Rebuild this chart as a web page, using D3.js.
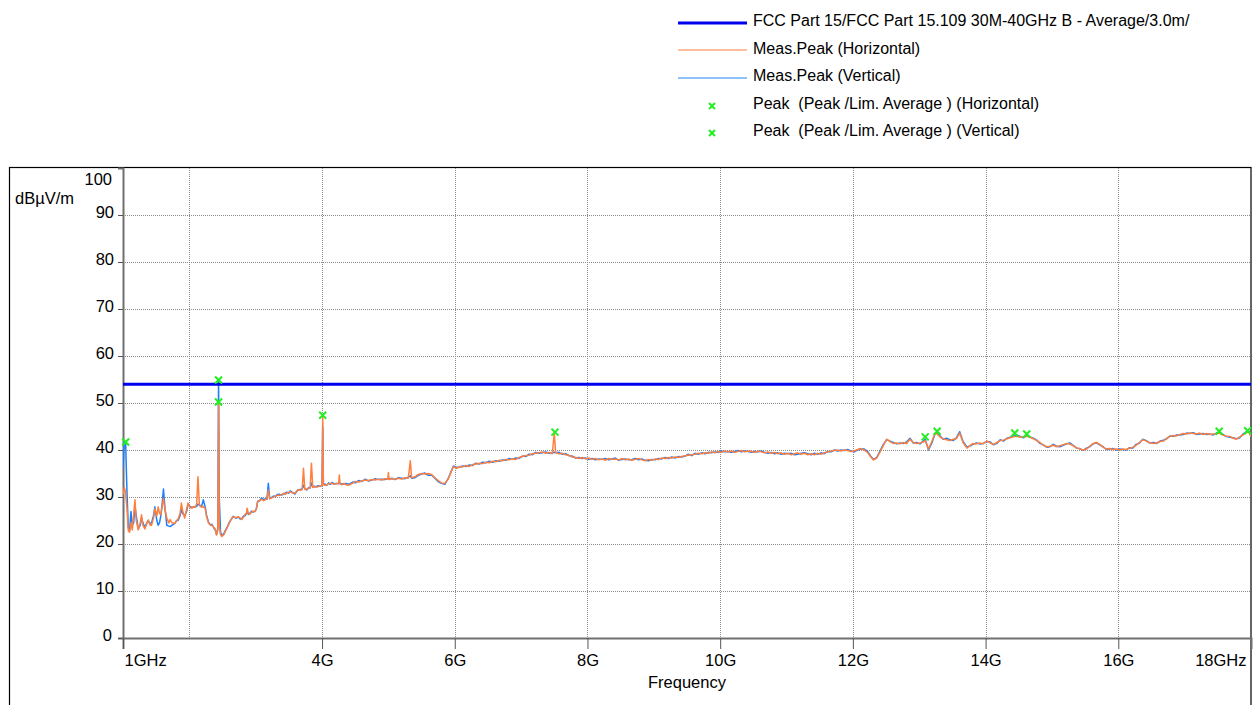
<!DOCTYPE html>
<html><head><meta charset="utf-8">
<script src="https://cdn.jsdelivr.net/npm/d3@7"></script>
<style>
html,body{margin:0;padding:0;background:#fff;}
svg text{font-family:"Liberation Sans",Arial,sans-serif;fill:#000;}
</style></head>
<body><svg id="c" width="1255" height="705"></svg>
<script>
// ---------------- data ----------------
const freqs = [
1.00,1.02,1.04,1.05,1.06,1.08,1.10,1.12,1.14,1.16,1.18,1.20,1.23,1.26,1.28,1.30,1.33,1.36,1.38,1.41,
1.43,1.46,1.48,1.51,1.53,1.55,1.57,1.59,1.61,1.63,1.66,1.69,1.71,1.74,1.78,1.81,1.83,1.86,1.88,1.90,
1.93,1.96,1.98,2.01,2.04,2.07,2.09,2.11,2.13,2.15,2.17,2.19,2.21,2.24,2.26,2.29,2.32,2.34,2.37,2.39,
2.41,2.43,2.44,2.45,2.47,2.49,2.52,2.54,2.57,2.61,2.64,2.66,2.70,2.74,2.77,2.79,2.82,2.84,2.86,2.87,
2.89,2.91,2.94,2.96,2.99,3.01,3.03,3.06,3.09,3.12,3.14,3.17,3.19,3.21,3.24,3.27,3.30,3.32,3.35,3.39,
3.42,3.45,3.47,3.50,3.52,3.55,3.59,3.62,3.64,3.67,3.70,3.72,3.74,3.77,3.80,3.82,3.84,3.86,3.88,3.91,
3.94,3.97,4.00,4.01,4.02,4.05,4.07,4.10,4.13,4.15,4.18,4.22,4.25,4.26,4.27,4.30,4.33,4.36,4.40,4.47,
4.50,4.55,4.60,4.65,4.70,4.75,4.80,4.85,4.90,4.95,4.99,5.00,5.01,5.05,5.10,5.15,5.20,5.25,5.30,5.33,
5.35,5.40,5.45,5.50,5.55,5.60,5.65,5.70,5.75,5.80,5.85,5.90,5.95,5.98,6.03,6.08,6.12,6.17,6.22,6.27,
6.32,6.37,6.42,6.47,6.52,6.57,6.62,6.67,6.72,6.77,6.82,6.87,6.92,6.97,7.02,7.07,7.12,7.17,7.22,7.27,
7.32,7.37,7.42,7.47,7.50,7.52,7.57,7.62,7.67,7.72,7.77,7.82,7.87,7.92,7.97,8.02,8.07,8.12,8.17,8.22,
8.27,8.32,8.37,8.42,8.47,8.52,8.57,8.62,8.67,8.72,8.77,8.82,8.87,8.92,8.97,9.02,9.07,9.12,9.17,9.22,
9.27,9.32,9.37,9.42,9.47,9.52,9.57,9.62,9.67,9.72,9.77,9.82,9.87,9.92,9.97,10.02,10.07,10.12,10.17,10.22,
10.27,10.32,10.37,10.42,10.47,10.52,10.57,10.62,10.67,10.72,10.77,10.82,10.87,10.92,10.97,11.02,11.07,11.12,11.17,11.22,
11.27,11.32,11.37,11.42,11.47,11.52,11.57,11.62,11.67,11.72,11.77,11.82,11.87,11.92,11.97,12.02,12.07,12.12,12.17,12.22,
12.27,12.31,12.36,12.41,12.46,12.51,12.56,12.61,12.66,12.71,12.76,12.81,12.86,12.91,12.96,13.01,13.06,13.09,13.14,13.19,
13.24,13.27,13.31,13.36,13.41,13.46,13.51,13.56,13.61,13.66,13.72,13.77,13.81,13.86,13.91,13.96,14.02,14.07,14.12,14.17,
14.22,14.27,14.32,14.37,14.42,14.47,14.52,14.57,14.62,14.67,14.72,14.77,14.82,14.87,14.92,14.97,15.02,15.07,15.12,15.17,
15.22,15.27,15.32,15.37,15.42,15.47,15.52,15.57,15.62,15.67,15.72,15.77,15.82,15.87,15.92,15.97,16.02,16.07,16.12,16.17,
16.22,16.27,16.32,16.37,16.42,16.47,16.53,16.58,16.63,16.68,16.73,16.78,16.83,16.88,16.93,16.98,17.03,17.08,17.13,17.18,
17.23,17.28,17.33,17.38,17.43,17.48,17.52,17.57,17.62,17.68,17.73,17.78,17.83,17.88,17.93,17.97,18.00
];
const measHorizontal = [
30.5,32.0,31.0,29.0,27.5,22.8,22.5,24.5,23.0,26.0,29.4,25.0,23.0,24.5,26.2,24.0,23.2,24.5,25.1,24.0,
24.0,25.5,27.5,26.0,27.9,26.5,26.2,28.0,29.7,27.5,25.5,24.5,25.2,24.5,24.4,25.0,25.3,26.5,28.7,27.0,
25.5,27.5,28.7,27.8,27.6,28.0,27.8,28.5,34.3,28.5,28.0,27.8,28.0,27.5,25.8,24.4,24.0,24.0,23.5,23.2,
21.9,23.0,50.2,24.0,22.0,21.6,22.0,22.6,23.5,24.7,25.5,25.8,25.6,25.8,25.5,25.2,25.8,26.3,26.5,27.6,
26.5,26.3,26.8,26.9,26.9,27.5,29.0,29.3,29.5,29.2,29.4,29.6,31.5,29.6,29.8,30.0,30.2,30.4,30.3,30.5,
30.8,30.6,30.9,31.0,31.1,30.9,30.8,31.3,31.6,31.4,31.6,36.1,31.6,31.7,31.9,32.0,37.2,32.0,32.2,32.1,
32.2,32.4,32.4,47.0,32.6,32.5,32.6,32.8,32.9,32.9,32.7,32.8,33.0,34.7,32.8,32.6,32.9,32.6,32.5,33.0,
33.3,33.2,33.4,33.6,33.5,33.7,33.6,33.8,33.6,33.9,33.8,35.2,33.7,33.9,33.8,34.0,33.8,34.1,34.0,37.7,
34.1,34.3,34.8,35.0,34.9,35.0,34.8,34.1,33.5,33.0,32.9,33.8,35.5,36.5,36.1,36.5,36.4,36.7,36.5,36.9,
37.0,37.2,37.1,37.4,37.3,37.6,37.5,37.8,37.7,38.0,37.9,38.1,38.0,38.4,38.6,38.8,38.9,39.2,39.3,39.4,
39.6,39.3,39.5,39.2,43.6,39.5,39.2,39.3,39.0,38.9,38.5,38.4,38.2,38.4,38.1,38.3,38.0,38.2,37.9,38.1,
37.8,38.2,38.0,38.1,37.9,38.2,37.9,38.1,37.8,38.0,38.2,37.9,37.7,38.0,37.8,38.1,38.0,38.3,38.2,38.4,
38.3,38.5,38.4,38.6,38.8,38.9,39.0,39.1,39.3,39.2,39.4,39.3,39.6,39.4,39.7,39.5,39.8,39.6,39.8,39.5,
39.7,39.9,39.6,39.8,39.7,39.5,39.8,39.6,39.4,39.6,39.3,39.5,39.2,39.4,39.1,39.3,39.0,39.2,39.4,39.1,
39.3,39.0,39.2,39.0,39.3,39.1,39.4,39.6,39.8,39.9,40.0,39.8,40.0,39.9,39.7,39.8,40.1,40.3,40.0,39.5,
38.5,37.9,38.3,39.6,41.0,42.3,41.8,41.4,41.5,41.3,41.6,41.4,42.3,41.6,41.4,41.5,41.7,42.0,40.2,41.8,
43.6,43.4,42.8,42.4,42.2,42.0,42.3,42.4,43.6,41.6,40.4,41.0,41.4,41.3,41.5,41.3,41.9,41.5,41.2,41.6,
42.0,42.1,42.4,42.6,42.8,42.9,42.7,42.8,42.9,42.7,42.4,42.0,41.6,41.0,40.7,40.8,41.0,40.7,40.9,41.1,
41.4,41.3,40.9,40.5,40.2,40.0,40.2,40.8,41.4,41.6,41.2,40.6,40.2,40.3,40.1,40.2,40.0,40.2,40.1,40.4,
40.6,41.0,41.6,42.2,41.9,41.6,41.4,41.5,41.8,41.9,42.5,42.9,43.1,43.0,43.3,43.5,43.4,43.6,43.5,43.4,
43.6,43.3,43.5,43.3,43.4,43.5,43.6,43.2,43.0,42.9,42.5,42.3,42.8,43.2,43.7,43.8,42.8
];
const measVertical = [
36.0,42.0,41.5,36.0,31.0,23.5,23.0,26.9,24.0,24.5,28.0,26.0,23.2,24.0,25.5,24.5,23.5,24.5,25.0,24.3,
24.5,26.0,27.9,25.0,24.0,24.5,26.0,28.5,31.7,28.0,24.0,23.8,23.7,24.0,24.4,25.0,25.0,26.0,27.5,26.5,
26.0,27.0,28.5,28.0,27.8,27.8,28.0,28.0,28.5,28.3,28.0,28.3,29.4,27.8,26.0,24.6,24.0,24.2,23.4,23.0,
22.0,23.5,54.9,30.0,22.5,21.8,22.2,22.8,23.6,24.8,25.4,25.9,25.5,25.7,25.3,25.4,26.0,26.0,26.5,27.0,
26.3,26.5,27.0,26.8,27.0,27.5,29.1,29.2,29.8,29.4,29.6,29.5,32.9,29.8,29.9,30.2,30.1,30.5,30.6,30.4,
30.6,30.9,31.0,30.8,31.3,31.0,30.6,31.2,31.5,31.6,31.7,32.5,31.8,31.5,32.0,31.9,33.0,32.1,32.3,32.2,
32.4,32.3,32.5,45.0,32.8,32.7,32.5,33.0,32.7,33.1,32.8,32.9,32.8,33.2,32.9,32.8,32.7,32.9,32.7,33.2,
33.0,33.5,33.3,33.8,33.4,33.6,33.9,33.7,33.8,33.7,33.9,34.0,33.8,34.0,33.7,34.1,34.0,33.9,34.2,34.5,
34.0,34.1,34.6,34.9,35.1,34.6,34.7,34.0,33.3,32.9,32.7,33.9,35.6,36.6,36.3,36.4,36.6,36.5,36.8,36.7,
37.2,37.0,37.4,37.3,37.6,37.4,37.7,37.6,37.9,37.8,38.2,38.0,38.3,38.2,38.7,38.6,39.1,39.0,39.5,39.3,
39.4,39.6,39.3,39.4,39.5,39.4,39.5,39.1,39.2,38.8,38.7,38.3,38.4,38.2,38.3,38.0,38.2,37.9,38.1,38.0,
38.2,37.9,38.1,38.3,37.8,38.0,38.1,37.9,38.0,38.2,37.9,38.1,37.8,37.7,38.0,37.9,38.2,38.1,38.4,38.2,
38.5,38.3,38.6,38.5,38.7,39.1,38.8,39.3,39.1,39.4,39.2,39.5,39.4,39.6,39.5,39.8,39.6,39.7,39.5,39.7,
39.9,39.6,39.8,39.7,39.5,39.7,39.6,39.8,39.5,39.3,39.5,39.2,39.4,39.1,39.3,39.2,39.3,39.0,39.1,39.3,
39.4,39.2,39.0,39.3,39.1,39.4,39.2,39.7,39.6,40.0,39.8,40.0,39.9,40.1,39.8,39.6,40.0,40.2,40.2,39.7,
38.7,38.0,38.4,39.8,41.2,42.2,41.9,41.6,41.3,41.5,41.4,41.7,42.5,41.5,41.6,41.3,41.9,42.3,40.0,41.5,
43.5,43.8,43.0,42.3,42.5,42.2,42.0,42.6,43.9,41.8,40.6,40.9,41.2,41.5,41.3,41.4,41.8,41.7,41.1,41.4,
42.2,41.9,42.5,42.7,43.0,43.2,42.9,42.6,43.1,42.8,42.5,42.1,41.4,41.1,40.6,40.7,41.2,40.8,40.7,41.0,
41.3,41.5,41.0,40.4,40.3,39.9,40.4,40.7,41.3,41.5,41.1,40.7,40.1,40.2,40.3,40.0,40.2,40.1,40.0,40.5,
40.4,41.2,41.5,42.3,42.0,41.5,41.6,41.4,41.9,42.1,42.4,43.0,42.9,43.2,43.2,43.3,43.6,43.5,43.7,43.3,
43.4,43.5,43.3,43.4,43.2,43.6,43.8,43.4,42.9,42.7,42.6,42.4,42.6,43.4,43.9,43.9,43.0
];
const peakFreqHorizontal = [2.44, 4.01, 7.51, 13.09, 14.62, 17.52];
const peakLevelHorizontal = [50.2, 47.4, 43.8, 42.8, 43.4, 44.0];
const peakFreqVertical = [1.04, 2.44, 13.27, 14.44, 17.95];
const peakLevelVertical = [41.7, 54.9, 44.0, 43.6, 44.1];
const limitFreqs = [1, 18];
const limitLevels = [54, 54];
const xTickValues = [1, 4, 6, 8, 10, 12, 14, 16, 18];
const xTickLabels = ["1GHz", "4G", "6G", "8G", "10G", "12G", "14G", "16G", "18GHz"];
const xGridValues = [2, 4, 6, 8, 10, 12, 14, 16];
const yTickValues = [0, 10, 20, 30, 40, 50, 60, 70, 80, 90, 100];
const legendLabels = [
  "FCC Part 15/FCC Part 15.109 30M-40GHz B - Average/3.0m/",
  "Meas.Peak (Horizontal)",
  "Meas.Peak (Vertical)",
  "Peak  (Peak /Lim. Average ) (Horizontal)",
  "Peak  (Peak /Lim. Average ) (Vertical)"
];

// ---------------- drawing ----------------
const svg = d3.select("#c");
const L = 123, R = 1251, T = 168, B = 638;
const x = d3.scaleLinear().domain([1, 18]).range([L, R]);
const y = d3.scaleLinear().domain([0, 100]).range([B, T]);
const COL_H = "#ff7f3f", COL_V = "#1a7fff", COL_LIM = "#0000ee", COL_PK = "#22ee22";
const AX_FONT = 16.5, LG_FONT = 16;

// outer frame
svg.append("rect").attr("x", 9.5).attr("y", 167.5).attr("width", R - 9.5).attr("height", 560)
  .attr("fill", "none").attr("stroke", "#000").attr("stroke-width", 1.2);

svg.append("defs").append("clipPath").attr("id", "clip")
  .append("rect").attr("x", L).attr("y", T - 2).attr("width", R - L).attr("height", B - T + 2);

// grid
const grid = svg.append("g");
grid.selectAll("line.h").data(yTickValues.filter(v => v > 0 && v < 100)).enter().append("line")
  .attr("x1", L).attr("x2", R).attr("y1", d => Math.round(y(d)) + 0.5).attr("y2", d => Math.round(y(d)) + 0.5)
  .attr("stroke", "#8c8c8c").attr("stroke-width", 1).attr("stroke-dasharray", "1,1");
grid.selectAll("line.v").data(xGridValues).enter().append("line")
  .attr("y1", T).attr("y2", B).attr("x1", d => Math.round(x(d)) + 0.5).attr("x2", d => Math.round(x(d)) + 0.5)
  .attr("stroke", "#8c8c8c").attr("stroke-width", 1).attr("stroke-dasharray", "1,1");

// axes
const yAxis = d3.axisLeft(y).tickValues(yTickValues).tickSize(5).tickFormat(d => d);
const gy = svg.append("g").attr("transform", `translate(${L},0)`).call(yAxis);
gy.select(".domain").attr("stroke", "#707070").attr("stroke-width", 2);
gy.selectAll(".tick line").attr("stroke", "#555");
gy.selectAll(".tick").filter(d => d === 100).select("line").remove();
gy.selectAll(".tick text").attr("font-size", AX_FONT).attr("x", -9).attr("dy", 2)
  .attr("font-family", "Liberation Sans, Arial, sans-serif").attr("fill", "#000");
gy.selectAll(".tick").filter(d => d === 100).select("text").attr("dy", 16).attr("x", -11);
gy.selectAll(".tick").filter(d => d === 0).select("text").attr("x", -11);

const xAxis = d3.axisBottom(x).tickValues(xTickValues).tickSize(11)
  .tickFormat((d, i) => xTickLabels[i]);
const gx = svg.append("g").attr("transform", `translate(0,${B})`).call(xAxis);
gx.select(".domain").attr("stroke", "#707070").attr("stroke-width", 2);
gx.selectAll(".tick line").attr("stroke", "#555");
gx.selectAll(".tick text").attr("font-size", AX_FONT).attr("y", 28).attr("dy", 0)
  .attr("font-family", "Liberation Sans, Arial, sans-serif").attr("fill", "#000");
gx.selectAll(".tick").filter(d => d === 1).select("text").attr("text-anchor", "start").attr("x", 1);
gx.selectAll(".tick").filter(d => d === 18).select("text").attr("text-anchor", "end").attr("x", -5);
gx.selectAll(".tick").filter(d => d === 18).select("line").remove();

svg.append("text").attr("x", (L + R) / 2).attr("y", 688).attr("text-anchor", "middle")
  .attr("font-size", AX_FONT).text("Frequency");
svg.append("text").attr("x", 15).attr("y", 204).attr("font-size", AX_FONT).text("dBµV/m");

// traces
const plot = svg.append("g").attr("clip-path", "url(#clip)");
const lineOf = vals => d3.line().x((d, i) => x(freqs[i])).y((d, i) => y(vals[i]));
plot.append("path").datum(measVertical).attr("d", lineOf(measVertical))
  .attr("fill", "none").attr("stroke", COL_V).attr("stroke-width", 1.5).attr("stroke-linejoin", "round");
plot.append("path").datum(measHorizontal).attr("d", lineOf(measHorizontal))
  .attr("fill", "none").attr("stroke", COL_H).attr("stroke-width", 1.5).attr("stroke-linejoin", "round");

// limit
plot.append("path").attr("d", d3.line().x((d, i) => x(limitFreqs[i])).y((d, i) => y(limitLevels[i]))(limitFreqs))
  .attr("stroke", COL_LIM).attr("stroke-width", 3).attr("fill", "none");

// peak markers
function cross(g, cx, cy, s) {
  g.append("path").attr("d", `M${cx - s},${cy - s}L${cx + s},${cy + s}M${cx - s},${cy + s}L${cx + s},${cy - s}`)
    .attr("stroke", COL_PK).attr("stroke-width", 2).attr("fill", "none");
}
const mk = svg.append("g");
peakFreqHorizontal.forEach((f, i) => cross(mk, x(f), y(peakLevelHorizontal[i]), 3.5));
peakFreqVertical.forEach((f, i) => cross(mk, x(f), y(peakLevelVertical[i]), 3.5));

// legend
const lg = svg.append("g");
const rowsY = [26, 53.5, 81, 108.5, 135.5];
legendLabels.forEach((t, i) => {
  lg.append("text").attr("x", 753).attr("y", rowsY[i]).attr("font-size", LG_FONT)
    .style("white-space", "pre").text(t);
});
lg.append("line").attr("x1", 678).attr("x2", 747).attr("y1", 23).attr("y2", 23).attr("stroke", COL_LIM).attr("stroke-width", 3);
lg.append("line").attr("x1", 678).attr("x2", 747).attr("y1", 50).attr("y2", 50).attr("stroke", COL_H).attr("stroke-width", 1.2);
lg.append("line").attr("x1", 678).attr("x2", 747).attr("y1", 78).attr("y2", 78).attr("stroke", "#6aaef5").attr("stroke-width", 1.5);
cross(lg, 712, 106, 3);
cross(lg, 712, 133, 3);
</script></body></html>
